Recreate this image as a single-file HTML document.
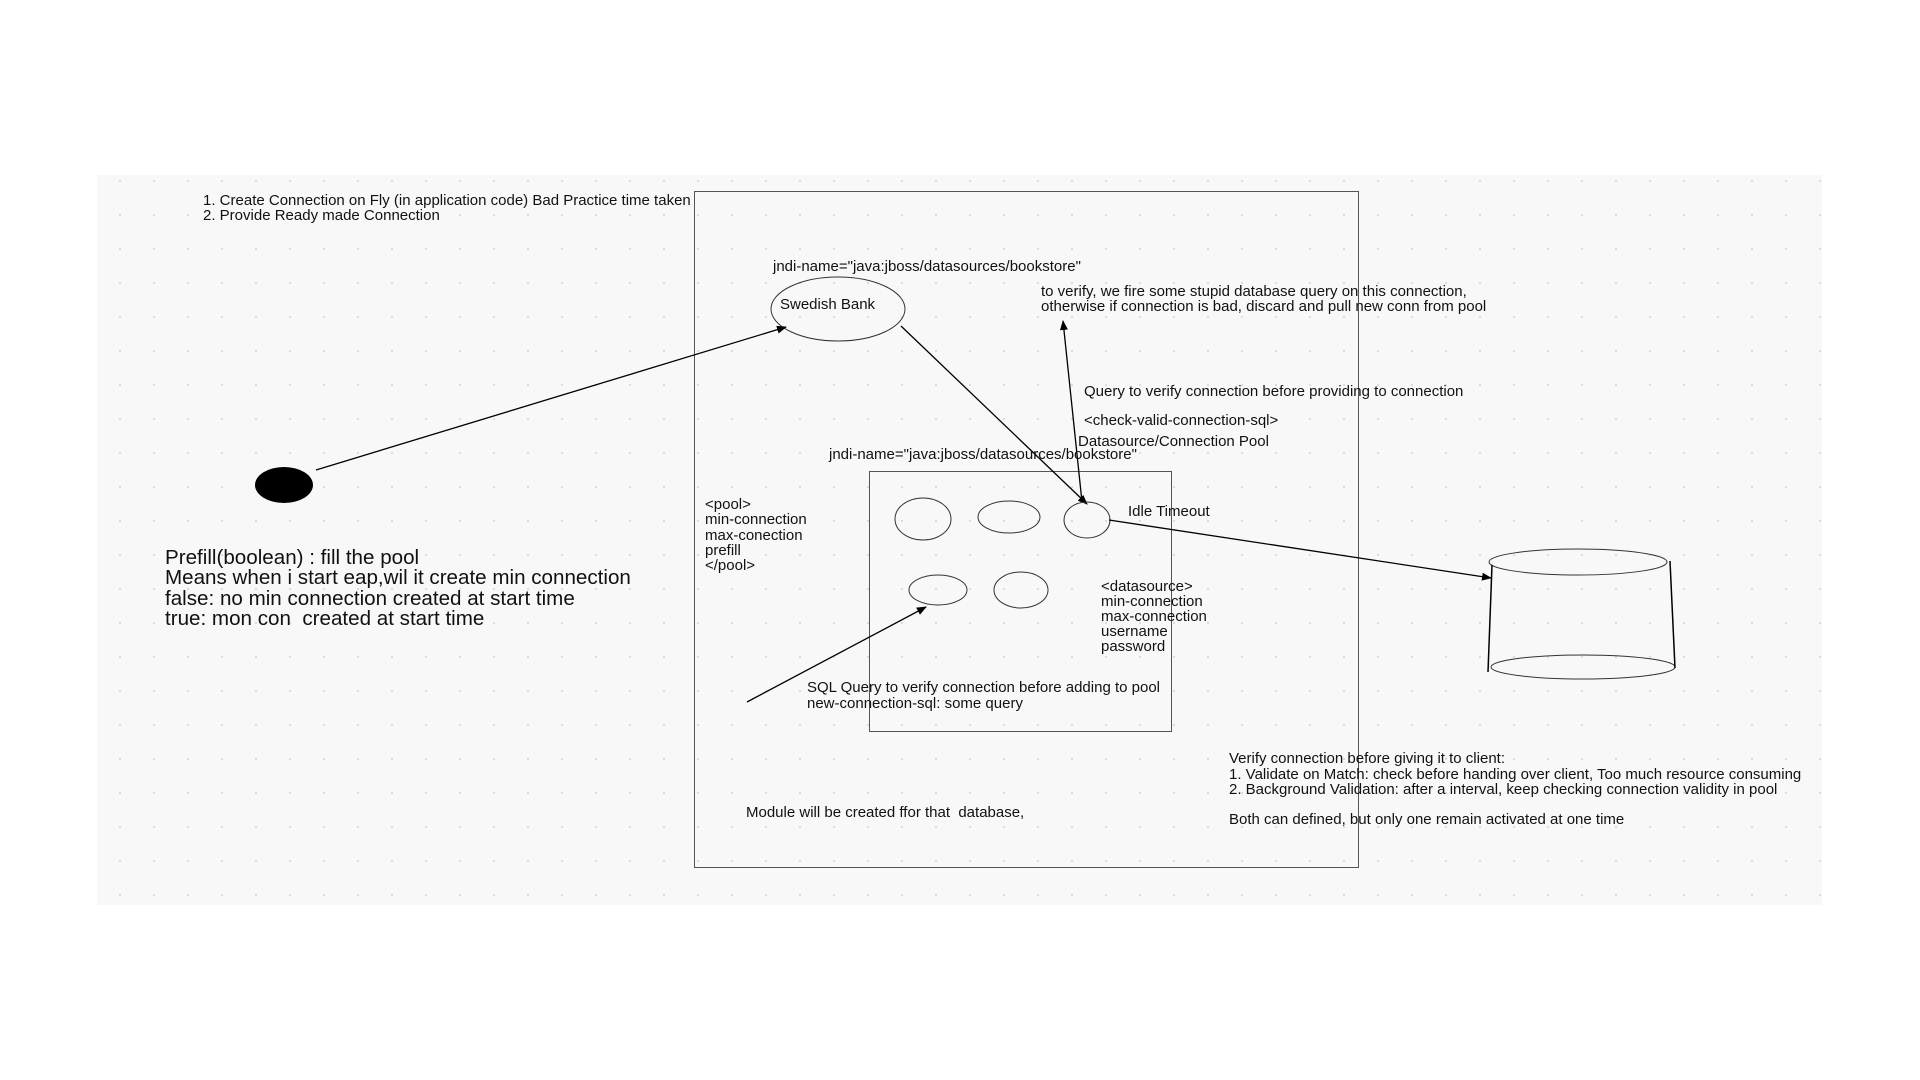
<!DOCTYPE html>
<html><head><meta charset="utf-8"><style>
html,body{margin:0;padding:0;background:#fff;}
svg{display:block;}
text{font-family:"Liberation Sans",sans-serif;font-size:15px;fill:#111;}
.big{font-size:20.6px;}
</style></head><body>
<svg width="1920" height="1080" viewBox="0 0 1920 1080" xmlns="http://www.w3.org/2000/svg">
<defs>
<pattern id="dots" x="103" y="164" width="34" height="34" patternUnits="userSpaceOnUse">
<circle cx="17" cy="17" r="1" fill="#d4d4d4"/>
</pattern>
<marker id="ah" markerWidth="10" markerHeight="8" refX="9" refY="4" orient="auto" markerUnits="userSpaceOnUse">
<path d="M0,0 L10,4 L0,8 z" fill="#000"/>
</marker>
</defs>
<rect x="97" y="175" width="1725" height="730" fill="#f8f8f8"/>
<rect x="97" y="175" width="1725" height="730" fill="url(#dots)"/>

<rect x="694.5" y="191.5" width="664" height="676" fill="none" stroke="#555" stroke-width="1"/>
<rect x="869.5" y="471.5" width="302" height="260" fill="none" stroke="#555" stroke-width="1"/>

<text x="203" y="205">1. Create Connection on Fly (in application code) Bad Practice time taken</text>
<text x="203" y="220">2. Provide Ready made Connection</text>

<text x="773" y="271">jndi-name="java:jboss/datasources/bookstore"</text>
<ellipse cx="838" cy="309" rx="67" ry="32" fill="none" stroke="#333"/>
<text x="780" y="309">Swedish Bank</text>

<ellipse cx="284" cy="485" rx="29" ry="18" fill="#000"/>
<line x1="316" y1="470" x2="786" y2="327" stroke="#000" stroke-width="1.3" marker-end="url(#ah)"/>
<line x1="901" y1="326" x2="1087" y2="504" stroke="#000" stroke-width="1.3" marker-end="url(#ah)"/>
<line x1="1082" y1="502" x2="1063" y2="321" stroke="#000" stroke-width="1.3" marker-end="url(#ah)"/>

<ellipse cx="923" cy="519" rx="28" ry="21" fill="none" stroke="#333"/>
<ellipse cx="1009" cy="517" rx="31" ry="16" fill="none" stroke="#333"/>
<ellipse cx="1087" cy="520" rx="23" ry="18" fill="none" stroke="#333"/>
<ellipse cx="938" cy="590" rx="29" ry="15" fill="none" stroke="#333"/>
<ellipse cx="1021" cy="590" rx="27" ry="18" fill="none" stroke="#333"/>

<line x1="747" y1="702" x2="926" y2="607" stroke="#000" stroke-width="1.3" marker-end="url(#ah)"/>
<line x1="1109" y1="520" x2="1491" y2="578" stroke="#000" stroke-width="1.3" marker-end="url(#ah)"/>

<ellipse cx="1578" cy="562" rx="89" ry="13" fill="none" stroke="#333"/>
<ellipse cx="1583" cy="667" rx="92" ry="12" fill="none" stroke="#333"/>
<line x1="1492" y1="565" x2="1488" y2="672" stroke="#000" stroke-width="1.5"/>
<line x1="1670" y1="561" x2="1675" y2="668" stroke="#000" stroke-width="1.5"/>

<text x="1041" y="296">to verify, we fire some stupid database query on this connection,</text>
<text x="1041" y="311">otherwise if connection is bad, discard and pull new conn from pool</text>
<text x="1084" y="396">Query to verify connection before providing to connection</text>
<text x="1084" y="425">&lt;check-valid-connection-sql&gt;</text>
<text x="1078" y="446">Datasource/Connection Pool</text>
<text x="829" y="459">jndi-name="java:jboss/datasources/bookstore"</text>
<text x="1128" y="516">Idle Timeout</text>

<text x="705" y="509">&lt;pool&gt;</text>
<text x="705" y="524">min-connection</text>
<text x="705" y="540">max-conection</text>
<text x="705" y="555">prefill</text>
<text x="705" y="570">&lt;/pool&gt;</text>

<text x="1101" y="591">&lt;datasource&gt;</text>
<text x="1101" y="606">min-connection</text>
<text x="1101" y="621">max-connection</text>
<text x="1101" y="636">username</text>
<text x="1101" y="651">password</text>

<text class="big" x="165" y="564">Prefill(boolean) : fill the pool</text>
<text class="big" x="165" y="584">Means when i start eap,wil it create min connection</text>
<text class="big" x="165" y="605">false: no min connection created at start time</text>
<text class="big" x="165" y="625">true: mon con&#160; created at start time</text>

<text x="807" y="692">SQL Query to verify connection before adding to pool</text>
<text x="807" y="708">new-connection-sql: some query</text>
<text x="746" y="817">Module will be created ffor that&#160; database,</text>

<text x="1229" y="763">Verify connection before giving it to client:</text>
<text x="1229" y="779">1. Validate on Match: check before handing over client, Too much resource consuming</text>
<text x="1229" y="794">2. Background Validation: after a interval, keep checking connection validity in pool</text>
<text x="1229" y="824">Both can defined, but only one remain activated at one time</text>
</svg>
</body></html>
